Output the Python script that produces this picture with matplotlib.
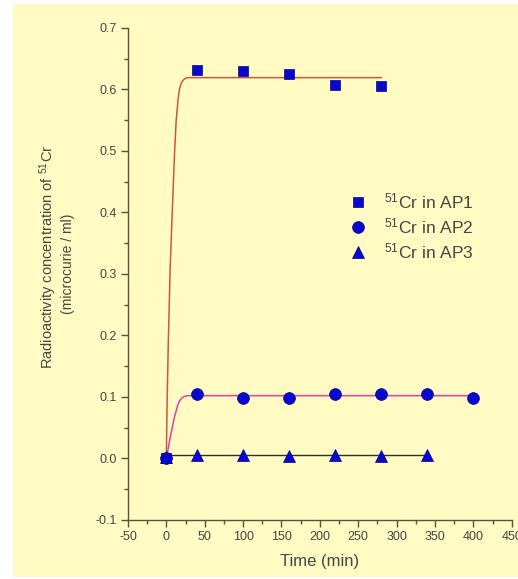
import matplotlib
matplotlib.use("Agg")
import matplotlib.pyplot as plt
from matplotlib.patches import Rectangle
from matplotlib.ticker import MultipleLocator, FormatStrFormatter

plt.rcParams['font.family'] = ['Liberation Sans', 'DejaVu Sans']
plt.rcParams['mathtext.fontset'] = 'custom'
plt.rcParams['mathtext.rm'] = 'Liberation Sans'
plt.rcParams['mathtext.it'] = 'Liberation Sans'
plt.rcParams['axes.unicode_minus'] = False

# measured points (time in min, concentration in microcurie/ml)
t_ap1 = [0, 40, 100, 160, 220, 280]
c_ap1 = [0.0, 0.632, 0.629, 0.625, 0.607, 0.605]
t_ap2 = [0, 40, 100, 160, 220, 280, 340, 400]
c_ap2 = [0.0, 0.105, 0.098, 0.099, 0.104, 0.104, 0.104, 0.099]
t_ap3 = [0, 40, 100, 160, 220, 280, 340]
c_ap3 = [0.002, 0.006, 0.005, 0.004, 0.006, 0.004, 0.005]

# fitted curves
fit1_t = [0, 1, 2.6, 5, 8, 10.5, 12.6, 15, 17, 19.5, 22, 25, 28, 280]
fit1_c = [0.0, 0.09, 0.19, 0.31, 0.41, 0.49, 0.545, 0.58, 0.60, 0.610, 0.615, 0.618, 0.619, 0.619]
fit2_t = [0, 3, 5, 7.4, 10, 12.5, 14.8, 17, 20, 24, 28, 400]
fit2_c = [0.0, 0.020, 0.034, 0.048, 0.064, 0.076, 0.086, 0.093, 0.098, 0.101, 0.102, 0.102]
fit3_t = [0, 340]
fit3_c = [0.0055, 0.0055]

legend_labels = ["$^{51}$Cr in AP1", "$^{51}$Cr in AP2", "$^{51}$Cr in AP3"]

bg = '#FFFBC3'
axis_col = '#55553F'
text_col = '#454545'
mark_col = '#0808D0'
mark_edge = '#00008A'

fig = plt.figure(figsize=(5.18, 5.79), dpi=100)
fig.patch.set_facecolor('white')
fig.patches.append(Rectangle((13 / 518, 2 / 579), 505 / 518, 573 / 579,
                             transform=fig.transFigure, facecolor=bg,
                             edgecolor='none', zorder=-10))

ax = fig.add_axes([0.247, 0.102, 0.741, 0.850])
ax.set_facecolor(bg)

ax.plot(fit1_t, fit1_c, color='#C85A3C', lw=1.1, zorder=2)
ax.plot(fit2_t, fit2_c, color='#E040A0', lw=1.1, zorder=2)
ax.plot(fit3_t, fit3_c, color='#303030', lw=1.0, zorder=2)

ax.plot(t_ap1, c_ap1, 's', ms=7.5, color=mark_col, mec=mark_edge, mew=0.5,
        ls='none', label=legend_labels[0], zorder=3)
ax.plot(t_ap2, c_ap2, 'o', ms=8.5, color=mark_col, mec=mark_edge, mew=0.5,
        ls='none', label=legend_labels[1], zorder=3)
ax.plot(t_ap3, c_ap3, '^', ms=9, color=mark_col, mec=mark_edge, mew=0.5,
        ls='none', label=legend_labels[2], zorder=3)

ax.set_xlim(-50, 450)
ax.set_ylim(-0.1, 0.7)
ax.xaxis.set_major_locator(MultipleLocator(50))
ax.xaxis.set_minor_locator(MultipleLocator(25))
ax.yaxis.set_major_locator(MultipleLocator(0.1))
ax.yaxis.set_minor_locator(MultipleLocator(0.05))
ax.yaxis.set_major_formatter(FormatStrFormatter('%.1f'))

for side in ['top', 'right']:
    ax.spines[side].set_visible(False)
for side in ['left', 'bottom']:
    ax.spines[side].set_color(axis_col)
    ax.spines[side].set_linewidth(1.0)

ax.tick_params(which='major', direction='out', length=5, width=1,
               color=axis_col, labelcolor=text_col, labelsize=9, pad=3)
ax.tick_params(which='minor', direction='out', length=3, width=1, color=axis_col)

ax.set_xlabel("Time (min)", fontsize=12, color=text_col, labelpad=8)

fig.text(48 / 518, 1 - 257 / 579, "Radioactivity concentration of $^{51}$Cr",
         rotation=90, ha='center', va='center', fontsize=10.5, color=text_col)
fig.text(68 / 518, 1 - 264 / 579, "(microcurie / ml)",
         rotation=90, ha='center', va='center', fontsize=10, color=text_col)

ax.legend(loc='upper left', bbox_to_anchor=(0.532, 0.70), frameon=False,
          fontsize=12.5, labelcolor=text_col, handlelength=1.2,
          handletextpad=0.9, labelspacing=0.3)

fig.savefig("out.png", dpi=100, facecolor=fig.get_facecolor())
